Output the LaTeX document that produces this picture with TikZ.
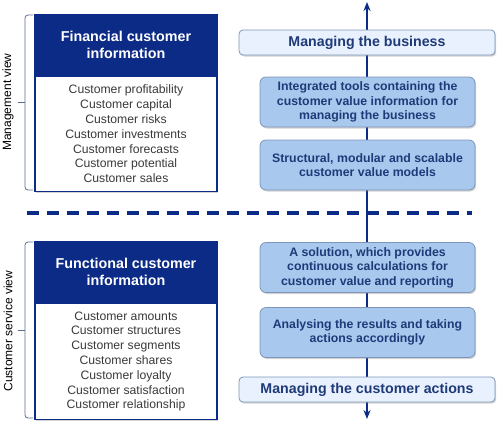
\documentclass[tikz,border=0pt]{standalone}
\usepackage{fontspec}
\setmainfont{Liberation Sans}
\usetikzlibrary{positioning,shadows,arrows.meta}
\definecolor{navy}{HTML}{0C2B86}
\definecolor{boxtext}{HTML}{1F3A78}
\definecolor{midfill}{HTML}{A9C8EE}
\definecolor{midline}{HTML}{7D95B8}
\definecolor{lightfill}{HTML}{E8F1FD}
\definecolor{bodytext}{HTML}{3A3A3A}
\definecolor{bracecol}{HTML}{5A6C90}
\begin{document}
\begin{tikzpicture}[x=1pt,y=-1pt,
  softshadow/.style={drop shadow={shadow xshift=1.2pt,shadow yshift=-1.5pt,opacity=0.35}},
  infohead/.style={fill=navy,draw=navy,line width=1.5pt,text=white,
    font=\fontsize{14.3}{17}\selectfont\bfseries,minimum width=182pt,
    minimum height=60pt,inner sep=0pt,align=center,softshadow},
  infobody/.style={fill=white,draw=navy,line width=1.5pt,text=bodytext,
    font=\fontsize{12.2}{14.8}\selectfont,minimum width=182pt,
    inner sep=0pt,align=center,softshadow},
  goalbox/.style={fill=lightfill,draw=midline,line width=0.8pt,rounded corners=4pt,
    text=boxtext,font=\fontsize{14.2}{17}\selectfont\bfseries,
    minimum width=256pt,minimum height=25pt,inner sep=0pt,softshadow},
  stepbox/.style={fill=midfill,draw=midline,line width=0.8pt,rounded corners=6pt,
    text=boxtext,font=\fontsize{12.3}{14.5}\selectfont\bfseries,align=center,
    minimum width=215pt,minimum height=50pt,inner sep=0pt,softshadow},
  viewbrace/.style={draw=bracecol,line width=0.8pt,rounded corners=3pt},
  viewlabel/.style={rotate=90,text=black,font=\fontsize{12}{14}\selectfont}]
\useasboundingbox (0,0) rectangle (500,426);

% separator between the two views
\coordinate (sepL) at (27,213);
\coordinate (sepR) at (472,213);
\draw[navy,line width=4pt,dash pattern=on 12pt off 8pt] (sepL) -- (sepR);

% vertical axis
\coordinate (axtop) at (367,2);
\coordinate (axbot) at (367,419);
\draw[navy,line width=1.8pt,{Stealth[length=9pt,width=7pt]}-{Stealth[length=9pt,width=7pt]}] (axbot) -- (axtop);

% management view
\node[infohead] (finhead) at (126,45) {Financial customer\\information};
\node[infobody,minimum height=115pt,below=0pt of finhead] (finbody) {Customer profitability\\Customer capital\\Customer risks\\Customer investments\\Customer forecasts\\Customer potential\\Customer sales};
\draw[viewbrace] (33,15) -- (25,15) -- (25,190) -- (33,190);
\draw[viewbrace] (25,102) -- (18,102);
\node[viewlabel] (mgmt) at (8,102) {Management view};

% customer service view
\node[infohead] (funhead) at (126,272) {Functional customer\\information};
\node[infobody,minimum height=116pt,below=0pt of funhead] (funbody) {Customer amounts\\Customer structures\\Customer segments\\Customer shares\\Customer loyalty\\Customer satisfaction\\Customer relationship};
\draw[viewbrace] (33,242) -- (25,242) -- (25,418) -- (33,418);
\draw[viewbrace] (25,330) -- (18,330);
\node[viewlabel] (serv) at (8,331) {Customer service view};

% right column
\node[goalbox] (business) at (367,42.5) {Managing the business};
\node[stepbox] (tools) at (367.5,102) {Integrated tools containing the\\customer value information for\\managing the business};
\node[stepbox] (models) at (367.5,165) {Structural, modular and scalable\\customer value models};
\node[stepbox] (calc) at (367.5,267.5) {A solution, which provides\\continuous calculations for\\customer value and reporting};
\node[stepbox] (results) at (367.5,332.5) {Analysing the results and taking\\actions accordingly};
\node[goalbox] (actions) at (367,389.5) {Managing the customer actions};
\end{tikzpicture}
\end{document}
